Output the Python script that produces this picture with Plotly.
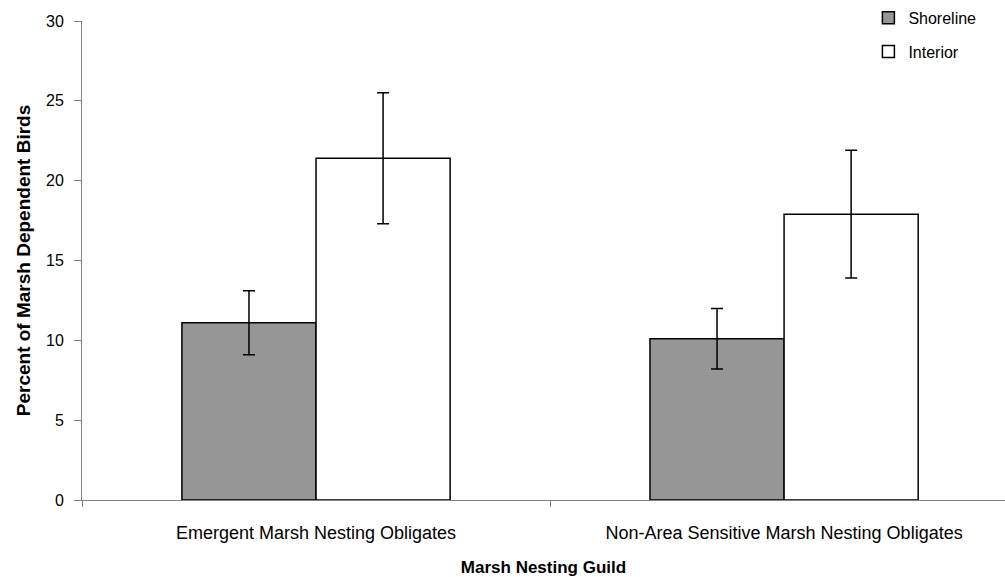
import plotly.graph_objects as go

# Marsh nesting guilds and mean percent of marsh-dependent birds (± error)
guilds = ["Emergent Marsh Nesting Obligates",
          "Non-Area Sensitive Marsh Nesting Obligates"]
shoreline = [11.1, 10.1]
shoreline_err = [2.0, 1.9]
interior = [21.4, 17.9]
interior_err = [4.1, 4.0]

FONT = "Liberation Sans, Arial, sans-serif"
AXIS_GRAY = "#808080"

fig = go.Figure()
fig.add_trace(go.Bar(
    name="Shoreline", x=guilds, y=shoreline,
    marker=dict(color="#969696", line=dict(color="black", width=1.5)),
    error_y=dict(type="data", array=shoreline_err, color="black",
                 thickness=1.5, width=6),
    legendgroup="a",
))
fig.add_trace(go.Bar(
    name="Interior", x=guilds, y=interior,
    marker=dict(color="white", line=dict(color="black", width=1.5)),
    error_y=dict(type="data", array=interior_err, color="black",
                 thickness=1.5, width=6),
    legendgroup="b",
))

fig.update_layout(
    width=1005, height=577,
    margin=dict(l=82, r=0, t=21, b=77, autoexpand=False),
    paper_bgcolor="white", plot_bgcolor="white",
    barmode="group", bargap=0.427, bargroupgap=0,
    font=dict(family=FONT, size=16, color="black"),
    showlegend=True,
    legend=dict(x=0.852, y=1.042, xanchor="left", yanchor="top",
                font=dict(size=16), traceorder="grouped",
                tracegroupgap=10, bgcolor="rgba(0,0,0,0)",
                itemwidth=30),
)
fig.update_xaxes(
    range=[-0.5, 1.472], showline=True, linecolor=AXIS_GRAY, linewidth=1,
    ticks="outside", tickson="boundaries", ticklen=6, tickcolor=AXIS_GRAY,
    tickfont=dict(size=18), ticklabelstandoff=16, showgrid=False,
    automargin=False,
    title=dict(text="<b>Marsh Nesting Guild</b>", font=dict(size=17), standoff=20),
)
fig.update_yaxes(
    range=[0, 30], dtick=5, showline=True, linecolor=AXIS_GRAY, linewidth=1,
    ticks="outside", ticklen=7, tickcolor=AXIS_GRAY, showgrid=False,
    zeroline=False, tickfont=dict(size=16), ticklabelstandoff=7,
    automargin=False,
    title=dict(text="<b>Percent of Marsh Dependent Birds</b>",
               font=dict(size=19), standoff=10),
)

fig.write_html("out.html")
